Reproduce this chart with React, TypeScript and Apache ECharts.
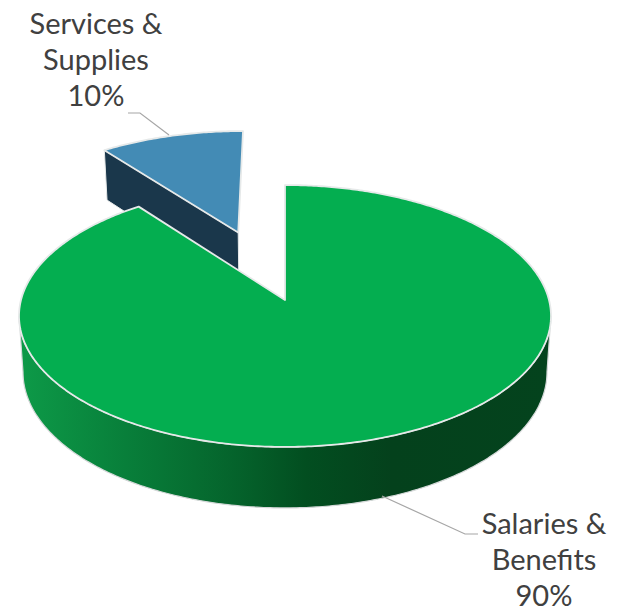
import React, { useEffect, useRef } from "react";
import * as echarts from "echarts";

const categories = ["Salaries &\nBenefits", "Services &\nSupplies"];
const values = [89.6, 10.4];
const exploded = [0, 0.59];
const topColors = ["#04AE50", "#438BB5"];
const cutColors = ["#04411C", "#1A374B"];
const labelCenters = [[544, 504], [96, 4]];
const leaders = [
  [[478, 534], [465, 534], [382, 496]],
  [[128, 113], [140, 113], [169, 135]],
];

// perspective of the tilted pie
const AX = 285, AY = 300, A = 264, B = 129, K = 0.122, DROP = 55.5, SHRINK = 0.985;

function project(u: number, v: number, low: boolean): number[] {
  const w = 1 + K * v;
  const s = low ? SHRINK : 1;
  return [AX + (s * A * u) / w, AY - (s * B * v) / w + (low ? DROP / w : 0)];
}

function arc(ox: number, oy: number, a0: number, a1: number, low: boolean): number[][] {
  const pts: number[][] = [];
  const n = Math.max(2, Math.ceil(Math.abs(a1 - a0) * 90));
  for (let i = 0; i <= n; i++) {
    const a = a0 + ((a1 - a0) * i) / n;
    pts.push(project(ox + Math.sin(a), oy + Math.cos(a), low));
  }
  return pts;
}

const total = values.reduce((s, v) => s + v, 0);
const edge = "#E6E9E9";

function renderItem(params: any, api: any) {
  const i = params.dataIndex;
  const before = values.slice(0, i).reduce((s, v) => s + v, 0);
  const a0 = (before / total) * Math.PI * 2;
  const a1 = ((before + values[i]) / total) * Math.PI * 2;
  const mid = (a0 + a1) / 2;
  const ox = exploded[i] * Math.sin(mid);
  const oy = exploded[i] * Math.cos(mid);
  const apexTop = project(ox, oy, false);
  const apexLow = project(ox, oy, true);
  const top = [apexTop, ...arc(ox, oy, a0, a1, false)];
  const children: any[] = [];
  const base = exploded[i] > 0 ? 0 : 10;

  if (exploded[i] > 0) {
    const rimTop = project(ox + Math.sin(a0), oy + Math.cos(a0), false);
    const rimLow = project(ox + Math.sin(a0), oy + Math.cos(a0), true);
    children.push({
      type: "polygon",
      z2: base + 1,
      shape: { points: [apexTop, rimTop, rimLow, apexLow] },
      style: { fill: cutColors[i], stroke: edge, lineWidth: 1 },
    });
  } else {
    const s0 = Math.PI - Math.asin(Math.sqrt(1 - K * K));
    const s1 = Math.PI + Math.asin(Math.sqrt(1 - K * K));
    const side = [...arc(0, 0, s0, s1, false), ...arc(0, 0, s1, s0, true)];
    children.push({
      type: "polygon",
      z2: base + 1,
      shape: { points: side },
      style: {
        fill: new echarts.graphic.LinearGradient(0, 0, 1, 0, [
          { offset: 0, color: "#0D9A48" },
          { offset: 0.2, color: "#087F3A" },
          { offset: 0.4, color: "#05642C" },
          { offset: 0.54, color: "#024E20" },
          { offset: 0.7, color: "#04411C" },
          { offset: 1, color: "#04431D" },
        ]),
        stroke: "#D4D8D8",
        lineWidth: 1.2,
      },
    });
  }
  children.push({
    type: "polygon",
    z2: base + 2,
    shape: { points: top },
    style: { fill: topColors[i], stroke: edge, lineWidth: 1.8, lineJoin: "round" },
  });
  children.push({
    type: "polyline",
    z2: 30,
    shape: { points: leaders[i] },
    style: { fill: "none", stroke: "#A6A6A6", lineWidth: 1.2 },
  });
  children.push({
    type: "text",
    z2: 31,
    style: {
      text: `${categories[i]}\n${Math.round(values[i])}%`,
      x: labelCenters[i][0],
      y: labelCenters[i][1],
      align: "center",
      verticalAlign: "top",
      fontFamily: "Lato",
      fontSize: 29,
      lineHeight: 36,
      fill: "#404040",
    },
  });
  return { type: "group", children };
}

export default function App() {
  const ref = useRef<HTMLDivElement>(null);
  useEffect(() => {
    const chart = echarts.init(ref.current!, null, { renderer: "svg" });
    chart.setOption({
      animation: false,
      backgroundColor: "#fff",
      series: [
        {
          type: "custom",
          coordinateSystem: "none",
          renderItem,
          data: values.map((v, i) => ({ name: categories[i], value: v })),
          silent: true,
        },
      ],
    });
    return () => chart.dispose();
  }, []);
  return (
    <div
      ref={ref}
      style={{ position: "absolute", left: 0, top: 0, width: 633, height: 611 }}
    />
  );
}
